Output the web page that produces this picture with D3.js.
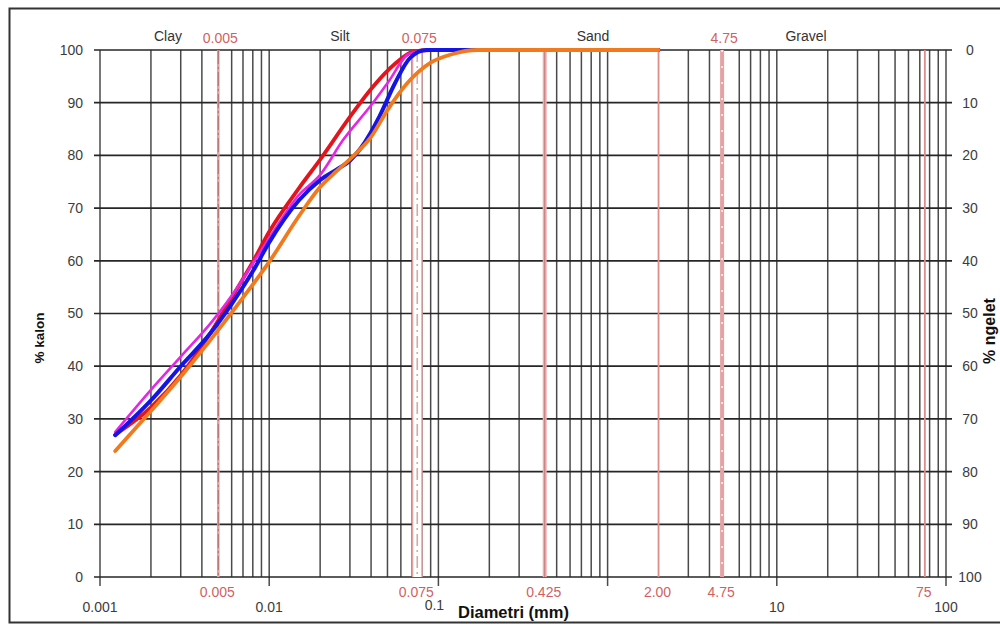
<!DOCTYPE html>
<html>
<head>
<meta charset="utf-8">
<script src="https://cdn.jsdelivr.net/npm/d3@7"></script>
<style>
  html, body { margin: 0; padding: 0; background: #fff; }
  svg { display: block; }
  text { font-family: "Liberation Sans", Arial, sans-serif; }
</style>
</head>
<body>
<svg id="chart" width="1000" height="626"></svg>
<script>
// Grain-size distribution (hydrometer + sieve) — cumulative % passing vs particle diameter

// Particle diameters (mm) and % passing for each sample curve
const redDiam = [0.00123, 0.002, 0.003, 0.0045, 0.006, 0.008, 0.01, 0.015, 0.02, 0.03, 0.04, 0.055, 0.07, 0.09, 2.0];
const redPass = [27, 32.2, 38.3, 46.3, 53, 59.8, 65.5, 73.8, 79.2, 87.3, 92.6, 97.3, 99.6, 100, 100];

const magentaDiam = [0.00123, 0.002, 0.003, 0.0046, 0.0065, 0.008, 0.01, 0.015, 0.02, 0.0273, 0.04, 0.05, 0.068, 0.09, 2.0];
const magentaPass = [27.5, 35.5, 41.8, 48.5, 55, 59.5, 64.3, 72.5, 76.3, 82.9, 89.5, 93.7, 99.4, 100, 100];

const blueDiam = [0.00123, 0.002, 0.003, 0.0045, 0.006, 0.008, 0.01, 0.015, 0.02, 0.025, 0.03, 0.035, 0.045, 0.055, 0.068, 0.085, 2.0];
const bluePass = [26.9, 33.5, 40, 46.3, 51.8, 58, 63.5, 71.5, 75.3, 77.3, 79, 81.5, 87.5, 93.5, 98.5, 100, 100];

const orangeDiam = [0.00123, 0.002, 0.003, 0.0045, 0.007, 0.01, 0.015, 0.02, 0.025, 0.03, 0.04, 0.05, 0.065, 0.09, 0.12, 0.17, 2.0];
const orangePass = [23.9, 31.5, 38, 45, 53, 59.8, 68.5, 74, 77, 79.3, 83.5, 88.6, 93.6, 97.6, 99.2, 100, 100];

// Soil class boundaries / sieve sizes (mm)
const boundaryValues = [0.005, 0.075, 0.425, 2.0, 4.75, 75];
const boundaryBottomLabels = ["0.005", "0.075", "0.425", "2.00", "4.75", "75"];
const topBoundaryValues = [0.005, 0.075, 4.75];
const topBoundaryLabels = ["0.005", "0.075", "4.75"];

// Soil classes written along the top
const classNames = ["Clay", "Silt", "Sand", "Gravel"];
const classDiam = [0.00252, 0.0262, 0.82, 14.9];

// Axis ticks
const decadeTicks = [0.001, 0.01, 0.1, 10, 100];
const decadeLabels = ["0.001", "0.01", "0.1", "10", "100"];
const passTicks = [0, 10, 20, 30, 40, 50, 60, 70, 80, 90, 100];
// Minor grid positions covered by a boundary line
const hiddenGrid = [0.005, 0.4, 2, 5];

const svg = d3.select("#chart");

const x = d3.scaleLog().domain([0.001, 100]).range([100, 946]);
const y = d3.scaleLinear().domain([0, 100]).range([577, 50]);
const yRight = d3.scaleLinear().domain([100, 0]).range([577, 50]);

// outer frame
svg.append("rect")
  .attr("x", 9.5).attr("y", 8.5)
  .attr("width", 1010).attr("height", 614)
  .attr("fill", "none").attr("stroke", "#333").attr("stroke-width", 2);

// vertical log grid
const isHidden = d => hiddenGrid.some(h => Math.abs(h - d) / h < 1e-6);
const isDecade = d => Math.abs(Math.log10(d) - Math.round(Math.log10(d))) < 1e-6;
const gridTicks = x.ticks().filter(d => !isHidden(d));

svg.append("g").selectAll("line")
  .data(gridTicks)
  .join("line")
  .attr("x1", d => x(d)).attr("x2", d => x(d))
  .attr("y1", y(100))
  .attr("y2", d => isDecade(d) ? y(0) + 9 : y(0))
  .attr("stroke", "#4a4a4a")
  .attr("stroke-width", 1.5);

// horizontal grid with small outer ticks
svg.append("g").selectAll("line")
  .data(passTicks)
  .join("line")
  .attr("x1", 94).attr("x2", 952)
  .attr("y1", d => y(d)).attr("y2", d => y(d))
  .attr("stroke", "#262626")
  .attr("stroke-width", 1.7);

// boundary lines
const bnd = svg.append("g");
boundaryValues.forEach(v => {
  const px = x(v);
  const line = () => bnd.append("line").attr("x1", px).attr("x2", px).attr("y1", y(100)).attr("y2", y(0));
  if (v === 0.075) {
    line().attr("stroke", "#e3a0a0").attr("stroke-width", 11);
    line().attr("stroke", "#fff").attr("stroke-width", 8);
    line().attr("stroke", "#d9a8a8").attr("stroke-width", 1.6).attr("stroke-dasharray", "12,4,2,4");
  } else if (v === 4.75) {
    line().attr("stroke", "#e6a2a2").attr("stroke-width", 4);
    line().attr("stroke", "#fff").attr("stroke-width", 1.4).attr("stroke-dasharray", "2,14");
  } else if (v === 0.005) {
    line().attr("stroke", "#e2a0a0").attr("stroke-width", 2.6);
    line().attr("stroke", "#b56a6a").attr("stroke-width", 1).attr("stroke-dasharray", "14,3,2,3");
  } else if (v === 0.425) {
    line().attr("stroke", "#eab0b0").attr("stroke-width", 4);
    line().attr("stroke", "#c47878").attr("stroke-width", 1);
  } else {
    line().attr("stroke", "#dc8c8c").attr("stroke-width", 1.8);
  }
});

// left axis labels (% passing)
svg.append("g").selectAll("text")
  .data(passTicks)
  .join("text")
  .attr("x", 83).attr("y", d => y(d))
  .attr("dy", "0.35em")
  .attr("text-anchor", "end")
  .attr("font-size", 14)
  .attr("fill", "#3c3c3c")
  .text(d => d);

// right axis labels (% retained)
svg.append("g").selectAll("text")
  .data(passTicks)
  .join("text")
  .attr("x", 970).attr("y", d => yRight(d))
  .attr("dy", "0.35em")
  .attr("text-anchor", "middle")
  .attr("font-size", 14)
  .attr("fill", "#3c3c3c")
  .text(d => d);

// bottom decade labels
svg.append("g").selectAll("text")
  .data(decadeTicks)
  .join("text")
  .attr("x", d => d === 0.1 ? x(d) - 4 : x(d))
  .attr("y", d => d === 0.1 ? 610 : 612)
  .attr("text-anchor", "middle")
  .attr("font-size", 14)
  .attr("fill", "#3c3c3c")
  .text((d, i) => decadeLabels[i]);

// boundary labels under the axis
svg.append("g").selectAll("text")
  .data(boundaryValues)
  .join("text")
  .attr("x", d => x(d) - 1)
  .attr("y", 597)
  .attr("text-anchor", "middle")
  .attr("font-size", 14)
  .attr("fill", "#d25f5f")
  .text((d, i) => boundaryBottomLabels[i]);

// boundary labels along the top
svg.append("g").selectAll("text")
  .data(topBoundaryValues)
  .join("text")
  .attr("x", d => x(d) + 2)
  .attr("y", 43)
  .attr("text-anchor", "middle")
  .attr("font-size", 14)
  .attr("fill", "#d25f5f")
  .text((d, i) => topBoundaryLabels[i]);

// soil class names
svg.append("g").selectAll("text")
  .data(classNames)
  .join("text")
  .attr("x", (d, i) => x(classDiam[i]))
  .attr("y", 41)
  .attr("text-anchor", "middle")
  .attr("font-size", 14)
  .attr("fill", "#333")
  .text(d => d);

// axis titles
svg.append("text")
  .attr("x", 458).attr("y", 618)
  .attr("font-size", 16.5).attr("font-weight", "bold")
  .attr("fill", "#111")
  .text("Diametri (mm)");

svg.append("text")
  .attr("transform", "translate(44,338) rotate(-90)")
  .attr("text-anchor", "middle")
  .attr("font-size", 13.5).attr("font-weight", "bold")
  .attr("fill", "#111")
  .text("% kalon");

svg.append("text")
  .attr("transform", "translate(995,331) rotate(-90)")
  .attr("text-anchor", "middle")
  .attr("font-size", 16).attr("font-weight", "bold")
  .attr("fill", "#111")
  .text("% ngelet");

// sample curves
const series = [
  { diam: redDiam, pass: redPass, color: "#e3141c", width: 3.8 },
  { diam: magentaDiam, pass: magentaPass, color: "#e626e6", width: 2.6 },
  { diam: blueDiam, pass: bluePass, color: "#1414e6", width: 4 },
  { diam: orangeDiam, pass: orangePass, color: "#f27a1e", width: 3.8 }
];

const lineGen = d3.line()
  .x(d => x(d[0]))
  .y(d => y(d[1]))
  .curve(d3.curveMonotoneX);

svg.append("g").selectAll("path")
  .data(series)
  .join("path")
  .attr("d", s => lineGen(s.diam.map((d, i) => [d, s.pass[i]])))
  .attr("fill", "none")
  .attr("stroke", s => s.color)
  .attr("stroke-width", s => s.width)
  .attr("stroke-linecap", "round")
  .attr("stroke-linejoin", "round");
</script>
</body>
</html>
